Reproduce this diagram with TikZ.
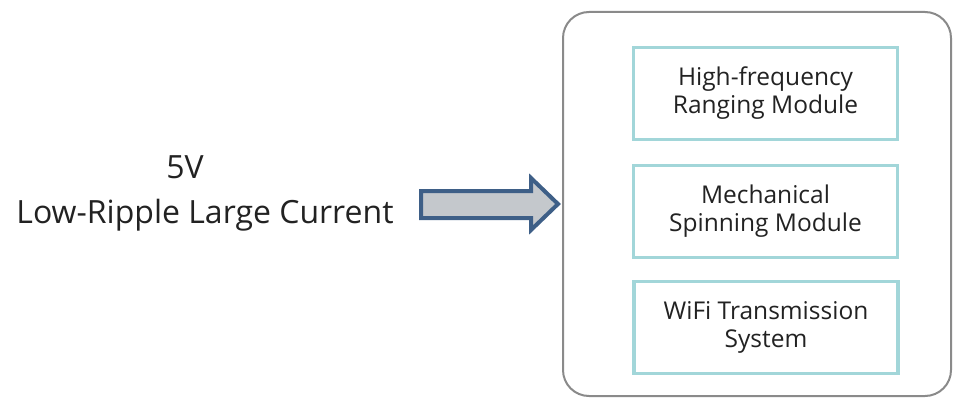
\documentclass[tikz,border=0pt]{standalone}
\usepackage{fontspec}
\setmainfont{Open Sans}
\usetikzlibrary{shapes.arrows}
\definecolor{teal1}{HTML}{A2D6D9}
\definecolor{frame}{HTML}{8A8A8A}
\definecolor{arrowblue}{HTML}{3E5F87}
\definecolor{arrowfill}{HTML}{C4C8CC}
\definecolor{txt}{HTML}{222222}
\tikzset{
  module/.style={draw=teal1, line width=3.5pt, minimum width=264pt, minimum height=92pt, align=center, text=txt, font=\fontsize{24.5}{28}\selectfont},
  label/.style={text=txt, font=\fontsize{32}{40}\selectfont, anchor=base, inner sep=0pt},
}
\begin{document}
\begin{tikzpicture}[x=1pt,y=-1pt]
\useasboundingbox (0,0) rectangle (955,401);
\draw[frame, line width=2pt, rounded corners=26pt] (563,12) rectangle (951,396);
\node[module] (m1) at (765.5,93.5) {High-frequency\\Ranging Module};
\node[module] (m2) at (765.5,211.5) {Mechanical\\Spinning Module};
\node[module] (m3) at (766,327.5) {WiFi Transmission\\System};
\node[label] (v) at (185,178) {5V};
\node[label] (lr) at (205,223) {Low-Ripple Large Current};
\coordinate (tip) at (558,204);
\draw[arrowblue, line width=4pt, fill=arrowfill, line join=miter]
  (421,191) -- (531,191) -- (531,178) -- (tip) -- (531,230) -- (531,218) -- (421,218) -- cycle;
\end{tikzpicture}
\end{document}
